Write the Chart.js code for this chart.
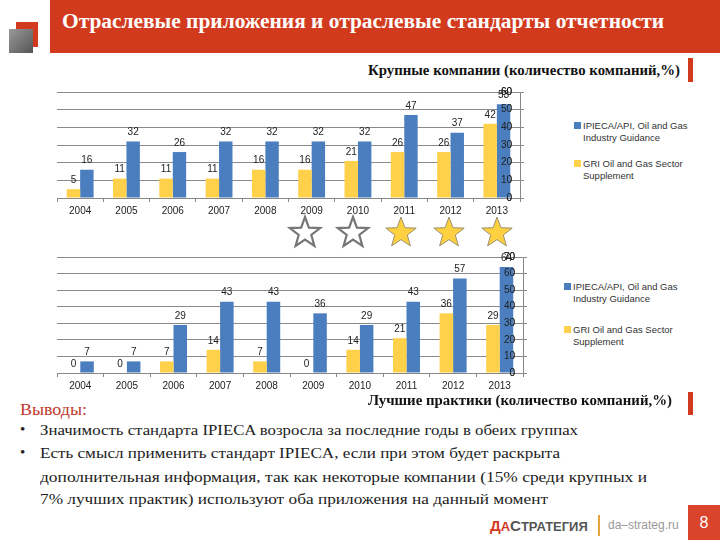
<!DOCTYPE html>
<html>
<head>
<meta charset="utf-8">
<script src="https://cdn.jsdelivr.net/npm/chart.js@4"></script>
<style>
  body { margin: 0; width: 720px; height: 540px; background: #fff; overflow: hidden; position: relative; font-family: "Liberation Serif", serif; }
  .abs { position: absolute; white-space: nowrap; }
  .fit { transform-origin: left center; display: inline-block; }
  .leg { position: absolute; font: 9.5px "Liberation Sans", sans-serif; color: #333; line-height: 12px; }
  .leg i { position: absolute; left: -9px; top: 2px; width: 7px; height: 7px; }
</style>
</head>
<body>
<!-- header -->
<div class="abs" style="left:50px;top:0;width:670px;height:53px;background:#d23a1e;"></div>
<div class="abs" style="left:16px;top:22px;width:22px;height:25px;background:#d23a1e;"></div>
<div class="abs" style="left:9px;top:29px;width:24px;height:24px;background:linear-gradient(135deg,#9a9a9a,#555);"></div>
<div class="abs fit" data-w="602" style="left:62px;top:10px;font-size:20px;font-weight:bold;color:#fff;">Отраслевые приложения и отраслевые стандарты отчетности</div>

<div class="abs fit" data-w="312" style="left:368px;top:63px;font-size:14px;font-weight:bold;color:#111;">Крупные компании (количество компаний,%)</div>
<div class="abs" style="left:688px;top:58px;width:5px;height:24px;background:#d23a1e;"></div>

<div class="abs" style="left:0;top:80px;width:540px;height:140px;"><canvas id="chartBig"></canvas></div>
<div class="abs" style="left:0;top:245px;width:543px;height:150px;"><canvas id="chartBest"></canvas></div>

<div class="leg" style="left:583px;top:120px;"><i style="background:#4a7ebf"></i>IPIECA/API, Oil and Gas<br>Industry Guidance</div>
<div class="leg" style="left:583px;top:158px;"><i style="background:#ffd04a"></i>GRI Oil and Gas Sector<br>Supplement</div>
<div class="leg" style="left:573px;top:281px;"><i style="background:#4a7ebf"></i>IPIECA/API, Oil and Gas<br>Industry Guidance</div>
<div class="leg" style="left:573px;top:324px;"><i style="background:#ffd04a"></i>GRI Oil and Gas Sector<br>Supplement</div>

<svg class="abs" style="left:280px;top:212px;" width="240" height="42" id="stars"></svg>

<div class="abs fit" data-w="304" style="left:368px;top:393px;font-size:14px;font-weight:bold;color:#111;">Лучшие практики (количество компаний,%)</div>
<div class="abs" style="left:688px;top:392px;width:5px;height:23px;background:#d23a1e;"></div>

<div class="abs fit" data-w="67" style="left:20px;top:400px;font-size:17px;color:#c0392b;">Выводы:</div>
<div class="abs" style="left:20px;top:421px;font-size:15px;color:#222;">•</div>
<div class="abs fit" data-w="538" style="left:40px;top:422px;font-size:15px;color:#222;">Значимость стандарта IPIECA возросла за последние годы в обеих группах</div>
<div class="abs" style="left:20px;top:444px;font-size:15px;color:#222;">•</div>
<div class="abs fit" data-w="520" style="left:40px;top:445px;font-size:15px;color:#222;">Есть смысл применить стандарт IPIECA, если при этом будет раскрыта</div>
<div class="abs fit" data-w="607" style="left:40px;top:469px;font-size:15px;color:#222;">дополнительная информация, так как некоторые компании (15% среди крупных и</div>
<div class="abs fit" data-w="508" style="left:40px;top:491px;font-size:15px;color:#222;">7% лучших практик) используют оба приложения на данный момент</div>

<!-- footer -->
<div class="abs" style="left:490px;top:517px;font:bold 13px 'Liberation Sans',sans-serif;color:#555;"><span style="color:#d23a1e;font-size:15px">Д</span><span style="color:#d23a1e">А</span><span style="font-size:15px">С</span>ТРАТЕГИЯ</div>
<div class="abs" style="left:598px;top:515px;width:2px;height:21px;background:#e8a33d;"></div>
<div class="abs" style="left:608px;top:518px;font:12px 'Liberation Sans',sans-serif;color:#999;">da–strateg.ru</div>
<div class="abs" style="left:688px;top:505px;width:32px;height:35px;background:#d9442a;color:#fff;font:16px 'Liberation Sans',sans-serif;text-align:center;line-height:35px;">8</div>

<script>
const years = ['2004', '2005', '2006', '2007', '2008', '2009', '2010', '2011', '2012', '2013'];
const seriesNames = ['GRI Oil and Gas Sector Supplement', 'IPIECA/API, Oil and Gas Industry Guidance'];
const bigGri = [5, 11, 11, 11, 16, 16, 21, 26, 26, 42];
const bigIpieca = [16, 32, 26, 32, 32, 32, 32, 47, 37, 53];
const bestGri = [0, 0, 7, 14, 7, 0, 14, 21, 36, 29];
const bestIpieca = [7, 7, 29, 43, 43, 36, 29, 43, 57, 64];
const stars = [false, false, true, true, true];

const yellow = '#ffd04a';
const blue = '#4a7ebf';

// fit text blocks to their width in the slide
document.querySelectorAll('.fit').forEach(el => {
  const w = el.getBoundingClientRect().width;
  el.style.transform = 'scaleX(' + (Number(el.dataset.w) / w) + ')';
});

// stars under 2009-2013
const svg = document.getElementById('stars');
stars.forEach((filled, i) => {
  const cx = 25 + i * 48, cy = 21, ro = 16, ri = 6.6;
  let pts = [];
  for (let k = 0; k < 10; k++) {
    const r = k % 2 ? ri : ro;
    const a = -Math.PI / 2 + k * Math.PI / 5;
    pts.push((cx + r * Math.cos(a)).toFixed(1) + ',' + (cy + r * Math.sin(a)).toFixed(1));
  }
  const p = document.createElementNS('http://www.w3.org/2000/svg', 'polygon');
  p.setAttribute('points', pts.join(' '));
  p.setAttribute('fill', filled ? '#ffd040' : '#fff');
  p.setAttribute('stroke', filled ? '#9a8f70' : '#777');
  p.setAttribute('stroke-width', filled ? '1' : '2.2');
  svg.appendChild(p);
});

// value labels above bars, and y tick labels redrawn on top of the bars
const valueLabels = {
  id: 'valueLabels',
  afterDatasetsDraw(chart) {
    const ctx = chart.ctx;
    chart.scales.y.drawLabels(chart.chartArea);
    ctx.save();
    ctx.font = '10px "Liberation Sans"';
    ctx.fillStyle = '#222';
    ctx.textAlign = 'center';
    ctx.textBaseline = 'bottom';
    chart.data.datasets.forEach((ds, i) => {
      chart.getDatasetMeta(i).data.forEach((bar, j) => {
        ctx.fillText(ds.data[j], bar.x, bar.y - 4);
      });
    });
    ctx.restore();
  }
};

Chart.defaults.font.family = '"Liberation Sans", sans-serif';
Chart.defaults.font.size = 10;
Chart.defaults.color = '#222';

function makeChart(id, gri, ipieca, yMax, xHeight) {
  return new Chart(document.getElementById(id), {
    type: 'bar',
    data: {
      labels: years,
      datasets: [
        { label: seriesNames[0], data: gri, backgroundColor: yellow },
        { label: seriesNames[1], data: ipieca, backgroundColor: blue }
      ]
    },
    options: {
      responsive: true,
      maintainAspectRatio: false,
      animation: false,
      categoryPercentage: 0.58,
      barPercentage: 1.0,
      layout: { padding: { left: 57, top: 12, right: 0, bottom: 0 } },
      plugins: { legend: { display: false }, tooltip: { enabled: false } },
      scales: {
        x: {
          grid: { drawOnChartArea: false, tickLength: 4, color: '#888' },
          border: { color: '#888' },
          ticks: { padding: 3 },
          afterFit: s => { s.height = xHeight; }
        },
        y: {
          position: 'right',
          min: 0,
          max: yMax,
          ticks: { stepSize: 10, mirror: true, padding: -8 },
          grid: { color: '#8a8a8a', tickLength: 4 },
          border: { color: '#888' },
          afterFit: s => { s.width = 20; }
        }
      }
    },
    plugins: [valueLabels]
  });
}

makeChart('chartBig', bigGri, bigIpieca, 60, 22);
makeChart('chartBest', bestGri, bestIpieca, 70, 22);
</script>
</body>
</html>
